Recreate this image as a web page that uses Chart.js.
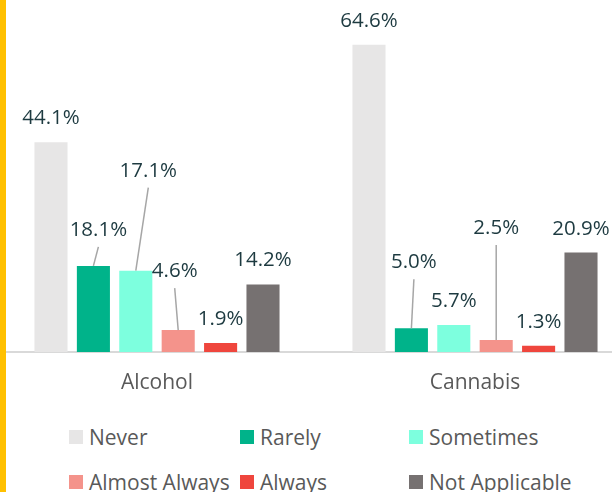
<!DOCTYPE html>
<html>
<head>
<meta charset="utf-8">
<script src="https://cdn.jsdelivr.net/npm/chart.js@4"></script>
<style>
  html, body { margin: 0; padding: 0; background: #fff; }
  #frame { position: relative; width: 612px; height: 492px; overflow: hidden; }
  #chart-wrap { position: absolute; left: -2px; top: 0; width: 636px; height: 410px; }
  #strip { position: absolute; left: 0; top: 0; width: 6px; height: 492px; background: #FFC000; }
  #legend {
    position: absolute; left: 69px; top: 414px;
    display: grid; grid-template-columns: 171px 169px 200px; grid-auto-rows: 45px;
    font-family: "Open Sans", sans-serif; font-size: 21px; color: #595959;
  }
  #legend .item { display: flex; align-items: center; white-space: nowrap; }
  #legend .box { width: 14px; height: 14px; margin-right: 6px; flex: none; }
</style>
</head>
<body>
<div id="frame">
  <div id="chart-wrap"><canvas id="chart"></canvas></div>
  <div id="strip"></div>
  <div id="legend"></div>
</div>
<script>
const categories = ['Alcohol', 'Cannabis']
const responses = ['Never', 'Rarely', 'Sometimes', 'Almost Always', 'Always', 'Not Applicable']
const never = [44.1, 64.6]
const rarely = [18.1, 5.0]
const sometimes = [17.1, 5.7]
const almostAlways = [4.6, 2.5]
const always = [1.9, 1.3]
const notApplicable = [14.2, 20.9]
const colors = ['#E7E6E6', '#00B38A', '#7DFFDE', '#F4938B', '#EF463D', '#767171']

// hand-moved labels: [dx, dy] from the default spot above the bar
const labelShift = [
  [[0, 0], [0, 0]],
  [[5, -12], [2.5, -42]],
  [[12.5, -76], [0, 0]],
  [[-3.5, -35], [0, -88]],
  [[0, 0], [0, 0]],
  [[0, 0], [0, 0]]
]

const values = [never, rarely, sometimes, almostAlways, always, notApplicable]

const barLabels = {
  id: 'barLabels',
  afterDatasetsDraw(chart) {
    const ctx = chart.ctx
    ctx.save()
    ctx.font = '20.5px "Open Sans"'
    ctx.textAlign = 'center'
    ctx.textBaseline = 'alphabetic'
    chart.data.datasets.forEach((ds, i) => {
      chart.getDatasetMeta(i).data.forEach((bar, j) => {
        const [dx, dy] = labelShift[i][j]
        const tx = bar.x + dx
        const ty = bar.y - 18 + dy
        if (dy !== 0) {
          ctx.strokeStyle = '#A6A6A6'
          ctx.lineWidth = 1.5
          ctx.beginPath()
          ctx.moveTo(tx, ty + 11)
          ctx.lineTo(bar.x, bar.y)
          ctx.stroke()
        }
        ctx.fillStyle = '#1D3A40'
        ctx.fillText(ds.data[j].toFixed(1) + '%', tx, ty)
      })
    })
    ctx.restore()
  }
}

const chart = new Chart(document.getElementById('chart').getContext('2d'), {
  type: 'bar',
  data: {
    labels: categories,
    datasets: responses.map((r, i) => ({
      label: r,
      data: values[i],
      backgroundColor: colors[i],
      borderWidth: 0,
      barPercentage: 0.78,
      categoryPercentage: 0.8
    }))
  },
  options: {
    responsive: true,
    maintainAspectRatio: false,
    animation: false,
    layout: { padding: 0 },
    plugins: {
      legend: { display: false },
      tooltip: { enabled: false }
    },
    scales: {
      x: {
        grid: { display: false, drawTicks: false },
        border: { display: true, color: '#D9D9D9', width: 2 },
        ticks: {
          padding: 18,
          color: '#595959',
          font: { family: 'Open Sans', size: 21 }
        },
        afterFit(scale) { scale.height = 58 }
      },
      y: {
        display: false,
        min: 0,
        max: 74
      }
    }
  },
  plugins: [barLabels]
})

function printLegend() {
  const legend = document.getElementById('legend')
  legend.innerHTML = chart.data.datasets.map(ds =>
    `<div class="item"><span class="box" style="background:${ds.backgroundColor}"></span>${ds.label}</div>`
  ).join('')
}

printLegend()
</script>
</body>
</html>
